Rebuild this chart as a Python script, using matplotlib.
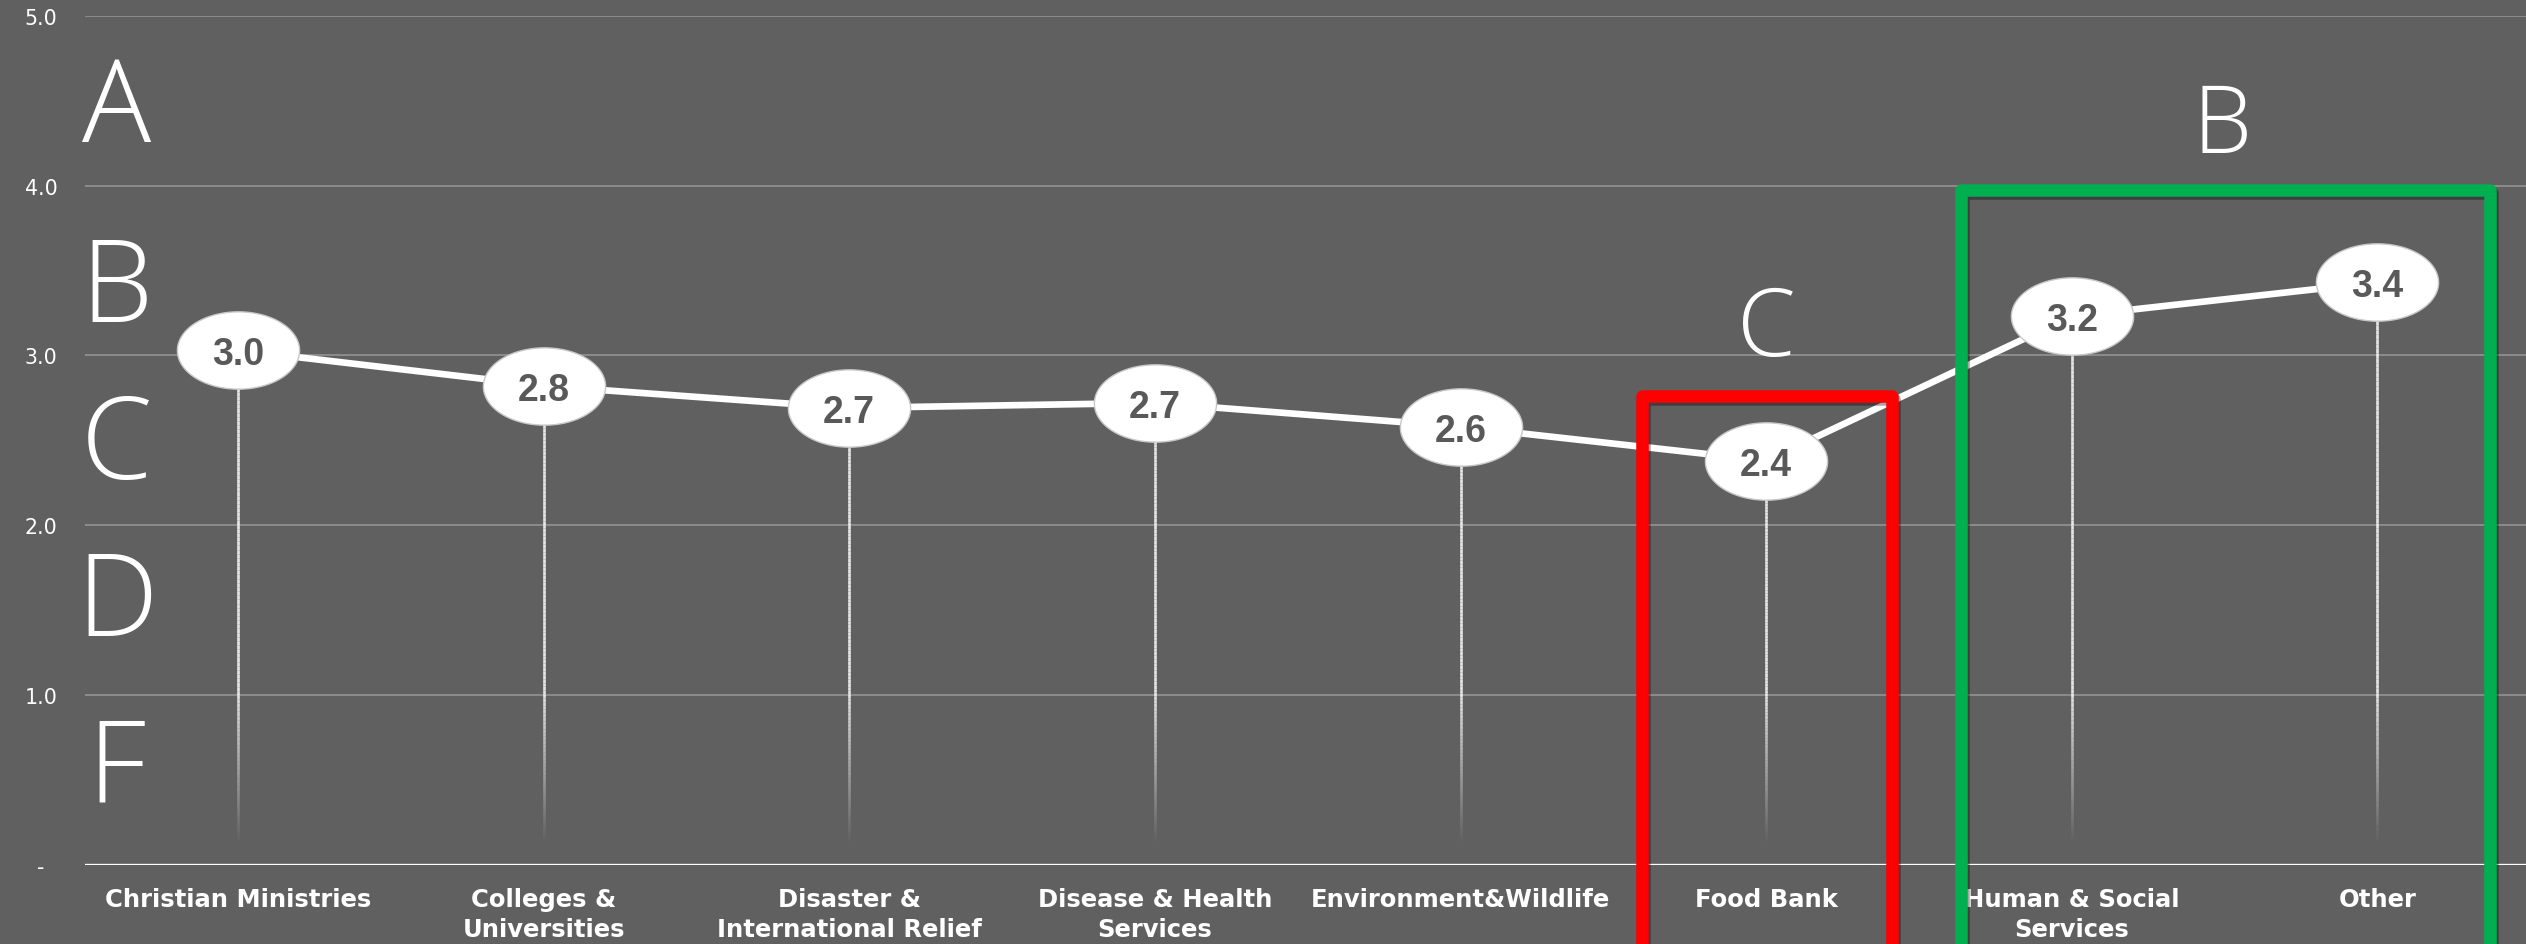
import numpy as np
import matplotlib
matplotlib.use("Agg")
import matplotlib.pyplot as plt
from matplotlib.path import Path
from matplotlib.markers import MarkerStyle
from matplotlib.collections import LineCollection
import matplotlib.patheffects as pe

# average grade per charity category
categories = ["Christian Ministries", "Colleges &\nUniversities", "Disaster &\nInternational Relief",
              "Disease & Health\nServices", "Environment&Wildlife", "Food Bank",
              "Human & Social\nServices", "Other"]
scores = [3.03, 2.82, 2.69, 2.72, 2.58, 2.38, 3.23, 3.43]

y_ticks = [0, 1, 2, 3, 4, 5]
y_tick_labels = ["-  ", "1.0", "2.0", "3.0", "4.0", "5.0"]

# letter grades down the left side (baseline heights on the score scale)
grades = ["A", "B", "C", "D", "F"]
grade_levels = [4.26, 3.20, 2.28, 1.35, 0.37]

bg = "#606060"
letter_font = dict(family=["Open Sans", "DejaVu Sans"], fontweight=300, color="white")

fig = plt.figure(figsize=(25.26, 9.45), dpi=100, facecolor=bg)
ax = fig.add_axes([0.0337, 0.0839, 0.968, 0.8984])
ax.set_facecolor(bg)

x = np.arange(len(categories))

# horizontal gridlines + white baseline
for yt in y_ticks[1:]:
    ax.axhline(yt, color="#8c8c8c", lw=1.4, zorder=1)
ax.axhline(0, color="white", lw=2.4, zorder=2)

# fading drop lines under each point
segs, cols = [], []
for xi, s in zip(x, scores):
    ys = np.linspace(0.12, s, 120)
    for a, b in zip(ys[:-1], ys[1:]):
        segs.append([(xi, a), (xi, b)])
        fade = min(1.0, (a - 0.12) / 0.9)
        cols.append((1, 1, 1, 0.85 * fade))
ax.add_collection(LineCollection(segs, colors=cols, linewidths=1.9, zorder=2))

# ellipse marker
t = np.linspace(0, 2 * np.pi, 120)
ell = Path(np.column_stack([1.58 * np.cos(t), np.sin(t)]), closed=True)
ax.plot(x, scores, color="white", lw=4.8, zorder=3,
        marker=MarkerStyle(ell), markersize=88, markerfacecolor="white",
        markeredgecolor="#c8c8c8", markeredgewidth=1.0)

for xi, s in zip(x, scores):
    ax.text(xi, s, f"{s:.1f}", ha="center", va="center_baseline", fontsize=27,
            fontweight="bold", color="#595959", family=["Liberation Sans", "DejaVu Sans"], zorder=4)

# letter grades
for g, lv in zip(grades, grade_levels):
    ax.text(-0.397, lv, g, ha="center", va="baseline", fontsize=83, zorder=4, **letter_font)

# highlight boxes with grade callouts
shadow = [pe.SimpleLineShadow(offset=(1.5, -2.5), alpha=0.35, shadow_color="black"), pe.Normal()]
ax.plot([4.593, 4.593, 5.411, 5.411], [-1, 2.762, 2.762, -1], color="#ff0000", lw=9,
        solid_joinstyle="round", clip_on=False, zorder=6, path_effects=shadow)
ax.plot([5.637, 5.637, 7.368, 7.368], [-1, 3.974, 3.974, -1], color="#00b050", lw=9,
        solid_joinstyle="round", clip_on=False, zorder=6, path_effects=shadow)
ax.text(5.0, 3.0, "C", ha="center", va="baseline", fontsize=68, zorder=4, **letter_font)
ax.text(6.49, 4.2, "B", ha="center", va="baseline", fontsize=68, zorder=4, **letter_font)

ax.set_xlim(-0.5, 7.5)
ax.set_ylim(0, 5)
ax.set_xticks(x)
ax.set_xticklabels(categories, fontsize=17.5, fontweight="bold", color="white",
                   linespacing=1.3)
ax.set_yticks(y_ticks)
ax.set_yticklabels(y_tick_labels, fontsize=14.8, color="white")
ax.tick_params(axis="both", length=0)
ax.tick_params(axis="x", pad=16)
ax.tick_params(axis="y", pad=20)
for sp in ax.spines.values():
    sp.set_visible(False)

fig.savefig("out.png", dpi=100, facecolor=bg)
